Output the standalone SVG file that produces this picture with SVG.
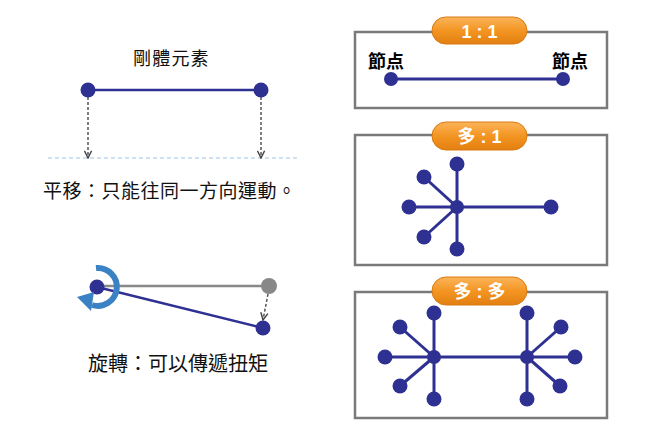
<svg xmlns="http://www.w3.org/2000/svg" width="649" height="448" viewBox="0 0 649 448">
<style>
  .t{font-family:"Noto Sans CJK TC","Noto Sans CJK SC",sans-serif;fill:#111;font-weight:normal}
  .nb{font-family:"Noto Sans CJK JP","Noto Sans CJK TC",sans-serif;font-weight:bold;fill:#000;font-size:18px}
  .pt{font-family:"Liberation Sans","Noto Sans CJK JP",sans-serif;font-weight:bold;fill:#fff;font-size:18px}
  .ln{stroke:#2E3192;stroke-width:3;fill:none}
  .n{fill:#2E3192}
  .box{fill:#fff;stroke:#7a7a7a;stroke-width:2.5}
  .dash{stroke:#555;stroke-width:1.5;stroke-dasharray:3,2;fill:none}
  .pill{fill:url(#og);stroke:#D97B12;stroke-width:1}
</style>
<defs>
  <linearGradient id="og" x1="0" y1="0" x2="0" y2="1">
    <stop offset="0" stop-color="#FBB45A"/>
    <stop offset="0.5" stop-color="#F39523"/>
    <stop offset="1" stop-color="#E27F10"/>
  </linearGradient>
  <marker id="va" viewBox="0 0 10 10" refX="9" refY="5" markerWidth="9" markerHeight="9" orient="auto" markerUnits="userSpaceOnUse">
    <path d="M1,1 L9,5 L1,9" fill="none" stroke="#444" stroke-width="1.6"/>
  </marker>
</defs>

<!-- left: translation -->
<g id="rigid-title">
  <text class="t" x="133" y="65" font-size="18" letter-spacing="1.2">剛體元素</text>
</g>
<g id="baseline">
  <line x1="48" y1="158" x2="300" y2="158" stroke="#9DC3E6" stroke-width="1.2" stroke-dasharray="4,3"/>
</g>
<g id="connectors">
  <line class="dash" x1="88" y1="97" x2="88" y2="158" marker-end="url(#va)"/>
  <line class="dash" x1="261" y1="97" x2="261" y2="158" marker-end="url(#va)"/>
  <line class="dash" x1="268" y1="294" x2="263" y2="320" marker-end="url(#va)"/>
</g>
<g id="rigid-bar">
  <line x1="88" y1="90" x2="261" y2="90" stroke="#2E3192" stroke-width="2.5"/>
  <circle class="n" cx="88" cy="90" r="7.5"/>
  <circle class="n" cx="261" cy="90" r="7.5"/>
</g>
<g id="translation-label">
  <text class="t" x="43" y="198" font-size="19" letter-spacing="0.5">平移：只能往同一方向運動。</text>
</g>

<!-- rotation -->
<g id="rotation">
  <line x1="97" y1="286" x2="269" y2="286" stroke="#888" stroke-width="2.5"/>
  <circle cx="269" cy="286" r="8" fill="#888"/>
  <line x1="97" y1="287" x2="263" y2="328" stroke="#2E3192" stroke-width="2.5"/>
  <circle class="n" cx="97" cy="287" r="7.5"/>
  <circle class="n" cx="263" cy="328" r="7.5"/>
  <path d="M96,268 A19,19 0 1 1 92,305" fill="none" stroke="#3B82C4" stroke-width="6"/>
  <polygon points="77,297 94,292 91,311" fill="#3B82C4"/>
</g>
<g id="rotation-label">
  <text class="t" x="88" y="371" font-size="20">旋轉：可以傳遞扭矩</text>
</g>

<!-- 1:1 -->
<g id="box-1to1">
  <rect class="box" x="355" y="32" width="252" height="76"/>
  <rect class="pill" x="432" y="17" width="95" height="27" rx="13.5"/>
  <text class="pt" x="479.5" y="37.5" text-anchor="middle">1 : 1</text>
  <text class="nb" x="368" y="68">節点</text>
  <text class="nb" x="552" y="68">節点</text>
  <line class="ln" x1="391" y1="79" x2="563" y2="79"/>
  <circle class="n" cx="391" cy="79" r="7"/>
  <circle class="n" cx="563" cy="79" r="7"/>
</g>

<!-- many:1 -->
<g id="box-many1">
  <rect class="box" x="355" y="135" width="252" height="130"/>
  <rect class="pill" x="432" y="122" width="95" height="28" rx="14"/>
  <text class="pt" x="479.5" y="143" text-anchor="middle">多 : 1</text>
  <g class="ln">
    <line x1="457" y1="207" x2="457" y2="164"/>
    <line x1="457" y1="207" x2="424" y2="177"/>
    <line x1="457" y1="207" x2="409" y2="207"/>
    <line x1="457" y1="207" x2="424" y2="237"/>
    <line x1="457" y1="207" x2="457" y2="249"/>
    <line x1="457" y1="207" x2="551" y2="207"/>
  </g>
  <circle class="n" cx="457" cy="207" r="7"/>
  <circle class="n" cx="457" cy="164" r="7.5"/>
  <circle class="n" cx="424" cy="177" r="7.5"/>
  <circle class="n" cx="409" cy="207" r="7.5"/>
  <circle class="n" cx="424" cy="237" r="7.5"/>
  <circle class="n" cx="457" cy="249" r="7.5"/>
  <circle class="n" cx="551" cy="207" r="7.5"/>
</g>

<!-- many:many -->
<g id="box-manymany">
  <rect class="box" x="355" y="292" width="252" height="126"/>
  <rect class="pill" x="432" y="277" width="95" height="28" rx="14"/>
  <text class="pt" x="479.5" y="298" text-anchor="middle">多 : 多</text>
  <g class="ln">
    <line x1="434" y1="357" x2="527" y2="357"/>
    <line x1="434" y1="357" x2="434" y2="313"/>
    <line x1="434" y1="357" x2="400" y2="327"/>
    <line x1="434" y1="357" x2="385" y2="357"/>
    <line x1="434" y1="357" x2="400" y2="386"/>
    <line x1="434" y1="357" x2="434" y2="399"/>
    <line x1="527" y1="357" x2="527" y2="313"/>
    <line x1="527" y1="357" x2="561" y2="327"/>
    <line x1="527" y1="357" x2="575" y2="357"/>
    <line x1="527" y1="357" x2="560" y2="386"/>
    <line x1="527" y1="357" x2="527" y2="399"/>
  </g>
  <circle class="n" cx="434" cy="357" r="7"/>
  <circle class="n" cx="527" cy="357" r="7"/>
  <circle class="n" cx="434" cy="313" r="7.5"/>
  <circle class="n" cx="400" cy="327" r="7.5"/>
  <circle class="n" cx="385" cy="357" r="7.5"/>
  <circle class="n" cx="400" cy="386" r="7.5"/>
  <circle class="n" cx="434" cy="399" r="7.5"/>
  <circle class="n" cx="527" cy="313" r="7.5"/>
  <circle class="n" cx="561" cy="327" r="7.5"/>
  <circle class="n" cx="575" cy="357" r="7.5"/>
  <circle class="n" cx="560" cy="386" r="7.5"/>
  <circle class="n" cx="527" cy="399" r="7.5"/>
</g>
</svg>
